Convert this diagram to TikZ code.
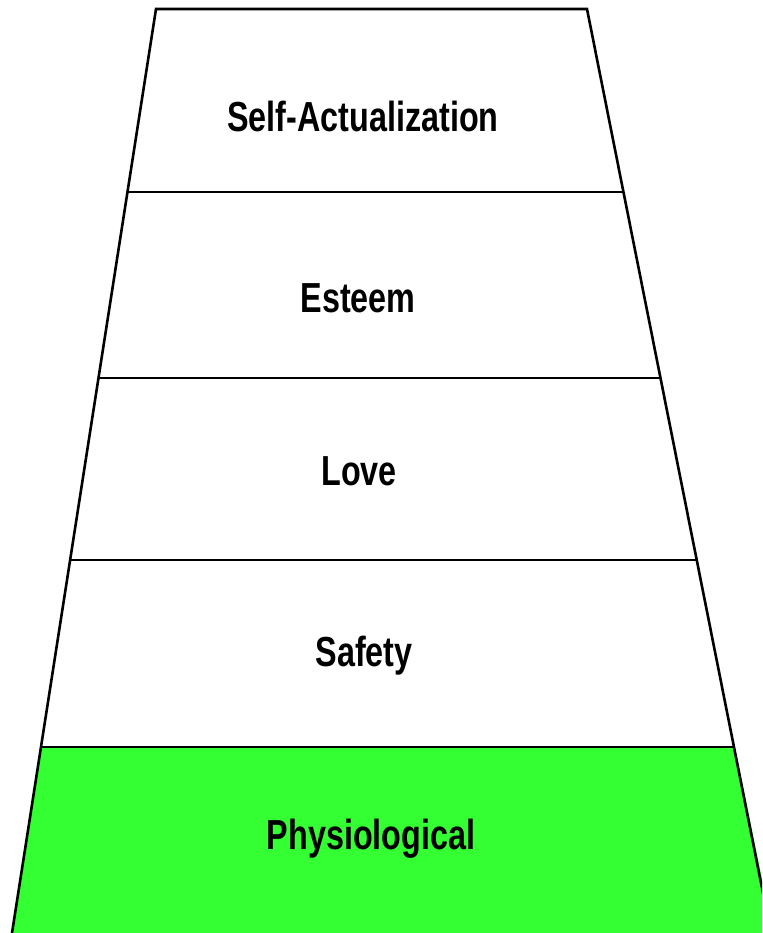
\documentclass[tikz,border=0pt]{standalone}
\usepackage{fontspec}
\setmainfont{Liberation Sans}[FakeStretch=0.77]
\definecolor{basegreen}{HTML}{33FF33}
\begin{document}
\begin{tikzpicture}[x=1pt,y=-1pt,
  tier/.style={font=\bfseries\fontsize{42}{46}\selectfont, text=black, inner sep=0pt, anchor=center},
  edge/.style={draw=black, line width=2.6pt}]
  \useasboundingbox (0,0) rectangle (762,933);
  \begin{scope}
    \clip (0,0) rectangle (762,933);
    % base level fill
    \fill[basegreen] (41,747) -- (735,747) -- (773,933) -- (12,933) -- cycle;
    % dividing lines
    \coordinate (l1) at (127,192); \coordinate (r1) at (624,192);
    \coordinate (l2) at (98,378);  \coordinate (r2) at (660,378);
    \coordinate (l3) at (70,560);  \coordinate (r3) at (696,560);
    \coordinate (l4) at (41,747);  \coordinate (r4) at (734,747);
    \draw[edge] (l1) -- (r1);
    \draw[edge] (l2) -- (r2);
    \draw[edge] (l3) -- (r3);
    \draw[edge] (l4) -- (r4);
    % outline
    \coordinate (tl) at (156,9); \coordinate (tr) at (587,9);
    \coordinate (bl) at (12,933); \coordinate (br) at (771,933);
    \draw[edge, line join=miter] (bl) -- (tl) -- (tr) -- (br);
  \end{scope}
  \node[tier] (sa) at (363,116) {Self-Actualization};
  \node[tier] (es) at (358,298) {Esteem};
  \node[tier] (lo) at (359,471) {Love};
  \node[tier] (sf) at (364,656) {Safety};
  \node[tier] (ph) at (371,839) {Physiological};
\end{tikzpicture}
\end{document}
